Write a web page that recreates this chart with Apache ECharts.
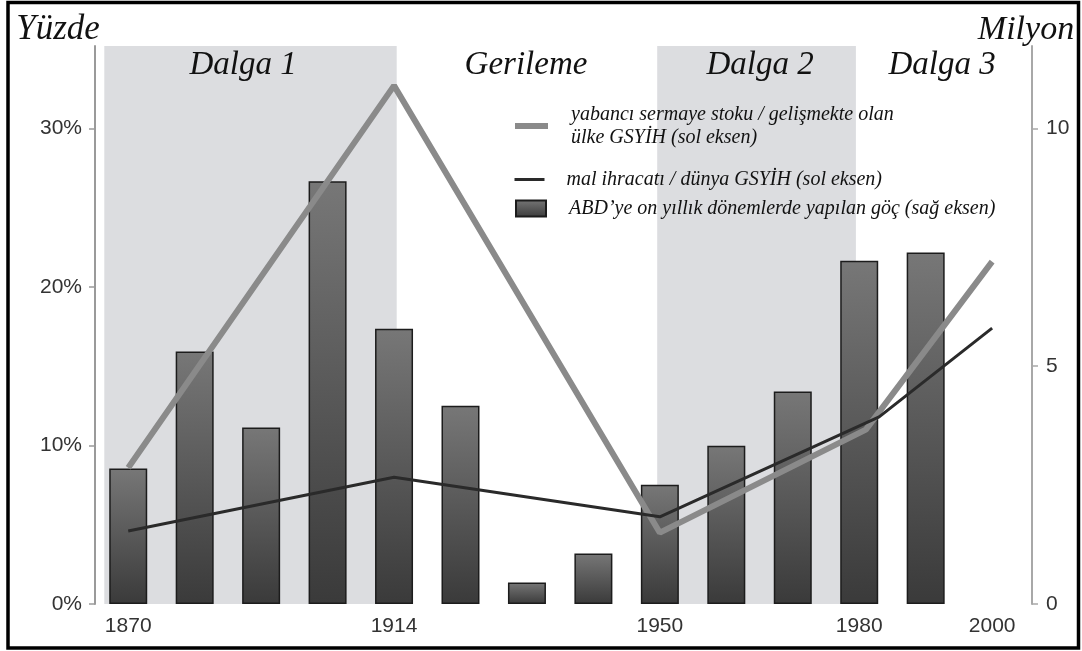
<!DOCTYPE html>
<html>
<head>
<meta charset="utf-8">
<script src="https://cdn.jsdelivr.net/npm/echarts@6/dist/echarts.min.js"></script>
<style>
html,body{margin:0;padding:0;background:#fff;}
#chart{width:1082px;height:651px;}
</style>
</head>
<body>
<div id="chart"></div>
<script>
// ---- data ----
const decades = [1870,1880,1890,1900,1910,1920,1930,1940,1950,1960,1970,1980,1990];
const migration = [2.85,5.31,3.71,8.89,5.79,4.17,0.45,1.06,2.51,3.33,4.47,7.22,7.39]; // million, right axis
const capitalYears = [1870,1910,1950,1981,2000];
const capitalShare = [8.6,32.7,4.5,11.0,21.6]; // %, left axis
const exportYears = [1870,1910,1950,1983,2000];
const exportShare = [4.6,8.0,5.5,11.8,17.4]; // %, left axis
const xTickValues = [1870,1910,1950,1980,2000];
const xTickLabels = ['1870','1914','1950','1980','2000'];
const leftTicks = [0,10,20,30];
const rightTicks = [0,5,10];
const shadeStarts = [1866.4,1949.6];
const shadeEnds = [1910.4,1979.5];
const waveLabels = ['Dalga 1','Gerileme','Dalga 2','Dalga 3'];
const seriesNames = [
  'yabancı sermaye stoku / gelişmekte olan\nülke GSYİH (sol eksen)',
  'mal ihracatı / dünya GSYİH (sol eksen)',
  'ABD’ye on yıllık dönemlerde yapılan göç (sağ eksen)'
];

const serif = '"Liberation Serif","DejaVu Serif",serif';
const sans = '"Liberation Sans",Arial,sans-serif';

const chart = echarts.init(document.getElementById('chart'), null, {renderer:'canvas'});

const barData = decades.map((d,i)=>[d, migration[i]]);
const capData = capitalYears.map((d,i)=>[d, capitalShare[i]]);
const expData = exportYears.map((d,i)=>[d, exportShare[i]]);
const shadeData = shadeStarts.map((s,i)=>[{xAxis:s},{xAxis:shadeEnds[i]}]);

const legendText = (padLeft) => ({
  fontFamily: serif, fontStyle:'italic', fontSize:20, lineHeight:23, color:'#111',
  padding:[0,0,0,padLeft]
});

const waveX = [243,526,760,942];
const graphics = waveLabels.map((t,i)=>({
  type:'text', x:waveX[i], y:65, z:10,
  style:{text:t, font:'italic 33px '+serif, fill:'#111', align:'center', verticalAlign:'middle'}
}));
graphics.push({type:'text', x:58, y:30, z:10,
  style:{text:'Yüzde', font:'italic 35px '+serif, fill:'#111', align:'center', verticalAlign:'middle'}});
graphics.push({type:'text', x:1026, y:30, z:10,
  style:{text:'Milyon', font:'italic 34px '+serif, fill:'#111', align:'center', verticalAlign:'middle'}});
graphics.push({type:'rect', z:20, shape:{x:8, y:2.5, width:1070.5, height:645.5},
  style:{fill:'none', stroke:'#000', lineWidth:3.5}});

const option = {
  backgroundColor:'#fff',
  animation:false,
  grid:{left:95, right:50, top:46, bottom:47},
  graphic: graphics,
  legend:[
    {data:[seriesNames[0]], left:512, top:103, padding:0, orient:'vertical',
     itemWidth:33, itemHeight:1, selectedMode:false,
     lineStyle:{width:6, color:'#8a8a8a'},
     textStyle:legendText(18)},
    {data:[seriesNames[1]], left:513, top:168, padding:0, orient:'vertical',
     itemWidth:30, itemHeight:1, selectedMode:false,
     lineStyle:{width:3, color:'#2a2a2a'},
     textStyle:legendText(17)},
    {data:[{name:seriesNames[2], icon:'rect'}], left:515, top:197, padding:0, orient:'vertical',
     itemWidth:30, itemHeight:16, selectedMode:false, textStyle:legendText(18)}
  ],
  xAxis:{
    type:'value', min:1865, max:2006, interval:5,
    axisLine:{show:false}, axisTick:{show:false}, splitLine:{show:false},
    axisLabel:{
      customValues:xTickValues,
      formatter:function(v){const k=xTickValues.indexOf(v);return k>=0?xTickLabels[k]:'';},
      fontFamily:sans, fontSize:21, color:'#333', margin:12
    }
  },
  yAxis:[
    {type:'value', position:'left', min:0, max:35.2, interval:10,
     axisLine:{show:true, lineStyle:{color:'#9a9a9a', width:2}},
     axisTick:{show:true, length:6, customValues:leftTicks, lineStyle:{color:'#9a9a9a', width:1.5}},
     splitLine:{show:false},
     axisLabel:{customValues:leftTicks, formatter:'{value}%', fontFamily:sans, fontSize:21, color:'#333', margin:13}
    },
    {type:'value', position:'right', min:0, max:35.2/3, interval:5,
     axisLine:{show:true, lineStyle:{color:'#a8a8a8', width:2}},
     axisTick:{show:true, length:6, customValues:rightTicks, lineStyle:{color:'#a8a8a8', width:1.5}},
     splitLine:{show:false},
     axisLabel:{customValues:rightTicks, fontFamily:sans, fontSize:21, color:'#333', margin:14}
    }
  ],
  series:[
    {
      name:seriesNames[2], type:'bar', xAxisIndex:0, yAxisIndex:1, data:barData,
      barWidth:38, z:2,
      itemStyle:{
        color:new echarts.graphic.LinearGradient(0,0,0,1,[{offset:0,color:'#777777'},{offset:1,color:'#3a3a3a'}]),
        borderColor:'#1c1c1c', borderWidth:1.5
      },
      markArea:{silent:true, itemStyle:{color:'#dcdde0'}, data:shadeData}
    },
    {
      name:seriesNames[0], type:'line', yAxisIndex:0, data:capData, symbol:'none', z:3,
      lineStyle:{color:'#8a8a8a', width:6}, itemStyle:{color:'#8a8a8a'}
    },
    {
      name:seriesNames[1], type:'line', yAxisIndex:0, data:expData, symbol:'none', z:4,
      lineStyle:{color:'#2a2a2a', width:3}, itemStyle:{color:'#2a2a2a'}
    }
  ]
};
chart.setOption(option);
</script>
</body>
</html>
